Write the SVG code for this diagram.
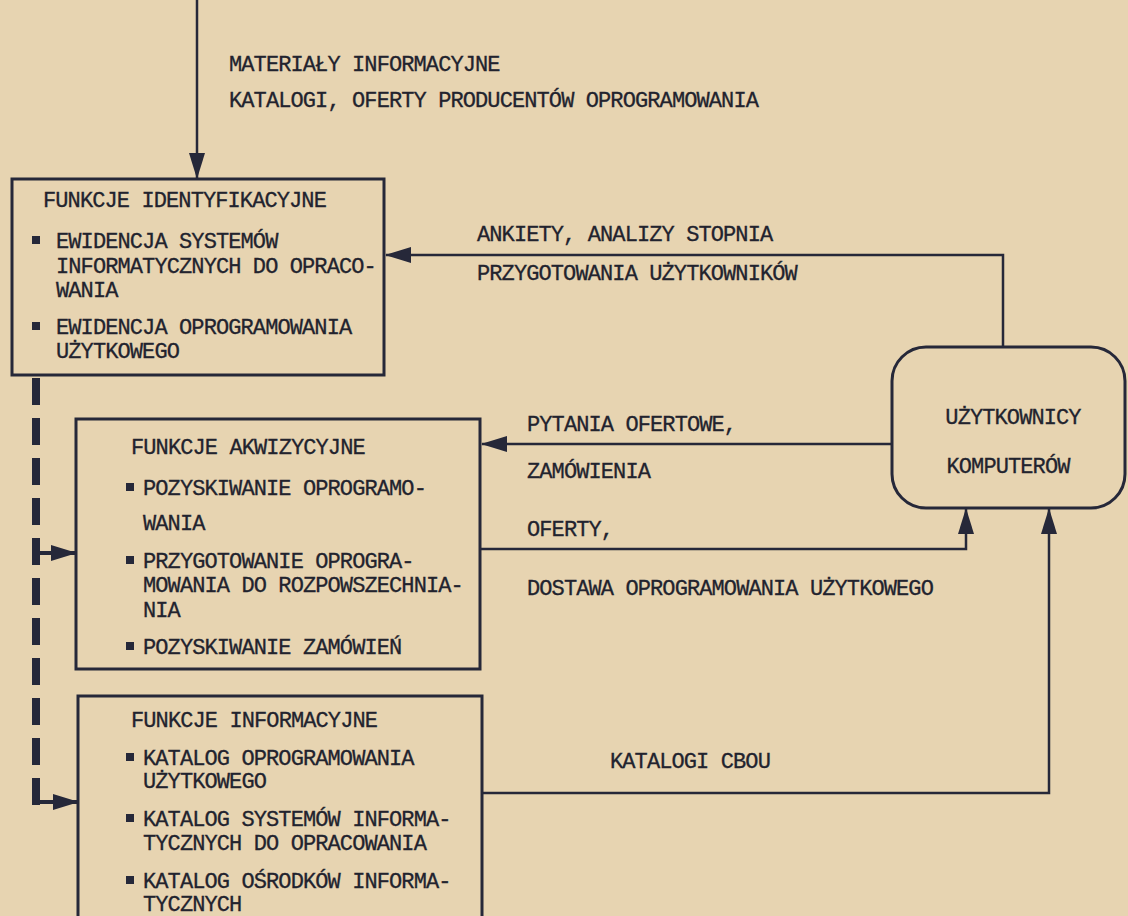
<svg xmlns="http://www.w3.org/2000/svg" width="1128" height="916" viewBox="0 0 1128 916">
<defs>
<marker id="ah" viewBox="0 0 26 16" refX="25" refY="8" markerWidth="26" markerHeight="16" markerUnits="userSpaceOnUse" orient="auto">
<path d="M0,0 L26,8 L0,16 Z" fill="#262839"/>
</marker>
</defs>
<style>
.bg{fill:#e7d4b1}
.box{fill:none;stroke:#262839;stroke-width:3}
.ln{fill:none;stroke:#262839;stroke-width:2.5}
.dash{fill:none;stroke:#262839;stroke-width:8;stroke-dasharray:27 13}
.br{fill:none;stroke:#262839;stroke-width:4}
.t{font-family:"Liberation Mono","DejaVu Sans Mono",monospace;font-size:22px;fill:#22232e;letter-spacing:-0.9px;stroke:#22232e;stroke-width:0.3}
.bul{fill:#262839}
</style>
<rect class="bg" x="0" y="0" width="1128" height="916"/>

<g id="connectors">
<path class="ln" d="M197,0 V178" marker-end="url(#ah)"/>
<path class="ln" d="M1003,347 V255 H386" marker-end="url(#ah)"/>
<path class="ln" d="M892,444 H482" marker-end="url(#ah)"/>
<path class="ln" d="M480,549 H966 V509" marker-end="url(#ah)"/>
<path class="ln" d="M482,793 H1049 V509" marker-end="url(#ah)"/>
<path class="dash" d="M36,378 V805"/>
<path class="br" d="M38,553 H76" marker-end="url(#ah)"/>
<path class="br" d="M38,802 H78" marker-end="url(#ah)"/>
</g>

<g id="labels">
<text class="t" x="229" y="71">MATERIAŁY INFORMACYJNE</text>
<text class="t" x="229" y="107">KATALOGI, OFERTY PRODUCENTÓW OPROGRAMOWANIA</text>
<text class="t" x="477" y="241">ANKIETY, ANALIZY STOPNIA</text>
<text class="t" x="477" y="280">PRZYGOTOWANIA UŻYTKOWNIKÓW</text>
<text class="t" x="527" y="431">PYTANIA OFERTOWE,</text>
<text class="t" x="527" y="478">ZAMÓWIENIA</text>
<text class="t" x="527" y="536">OFERTY,</text>
<text class="t" x="527" y="595">DOSTAWA OPROGRAMOWANIA UŻYTKOWEGO</text>
<text class="t" x="610" y="768">KATALOGI CBOU</text>
</g>

<g id="node-identyfikacyjne">
<rect class="box" x="12" y="179" width="372" height="196"/>
<text class="t" x="43" y="207">FUNKCJE IDENTYFIKACYJNE</text>
<rect class="bul" x="32" y="236" width="8" height="8"/>
<text class="t" x="56" y="248">EWIDENCJA SYSTEMÓW</text>
<text class="t" x="56" y="273">INFORMATYCZNYCH DO OPRACO-</text>
<text class="t" x="56" y="297">WANIA</text>
<rect class="bul" x="32" y="322" width="8" height="8"/>
<text class="t" x="56" y="334">EWIDENCJA OPROGRAMOWANIA</text>
<text class="t" x="56" y="358">UŻYTKOWEGO</text>
</g>

<g id="node-akwizycyjne">
<rect class="box" x="76" y="419" width="404" height="250"/>
<text class="t" x="131" y="454">FUNKCJE AKWIZYCYJNE</text>
<rect class="bul" x="126" y="483" width="8" height="8"/>
<text class="t" x="143" y="495">POZYSKIWANIE OPROGRAMO-</text>
<text class="t" x="143" y="530">WANIA</text>
<rect class="bul" x="126" y="556" width="8" height="8"/>
<text class="t" x="143" y="568">PRZYGOTOWANIE OPROGRA-</text>
<text class="t" x="143" y="592">MOWANIA DO ROZPOWSZECHNIA-</text>
<text class="t" x="143" y="617">NIA</text>
<rect class="bul" x="126" y="642" width="8" height="8"/>
<text class="t" x="143" y="654">POZYSKIWANIE ZAMÓWIEŃ</text>
</g>

<g id="node-informacyjne">
<rect class="box" x="78" y="696" width="404" height="240"/>
<text class="t" x="131" y="727">FUNKCJE INFORMACYJNE</text>
<rect class="bul" x="126" y="753" width="8" height="8"/>
<text class="t" x="143" y="765">KATALOG OPROGRAMOWANIA</text>
<text class="t" x="143" y="788">UŻYTKOWEGO</text>
<rect class="bul" x="126" y="814" width="8" height="8"/>
<text class="t" x="143" y="826">KATALOG SYSTEMÓW INFORMA-</text>
<text class="t" x="143" y="850">TYCZNYCH DO OPRACOWANIA</text>
<rect class="bul" x="126" y="876" width="8" height="8"/>
<text class="t" x="143" y="888">KATALOG OŚRODKÓW INFORMA-</text>
<text class="t" x="143" y="911">TYCZNYCH</text>
</g>

<g id="node-uzytkownicy">
<rect class="box" x="892" y="347" width="233" height="161" rx="34" ry="34"/>
<text class="t" x="1013" y="424" text-anchor="middle">UŻYTKOWNICY</text>
<text class="t" x="1008" y="473" text-anchor="middle">KOMPUTERÓW</text>
</g>
</svg>
